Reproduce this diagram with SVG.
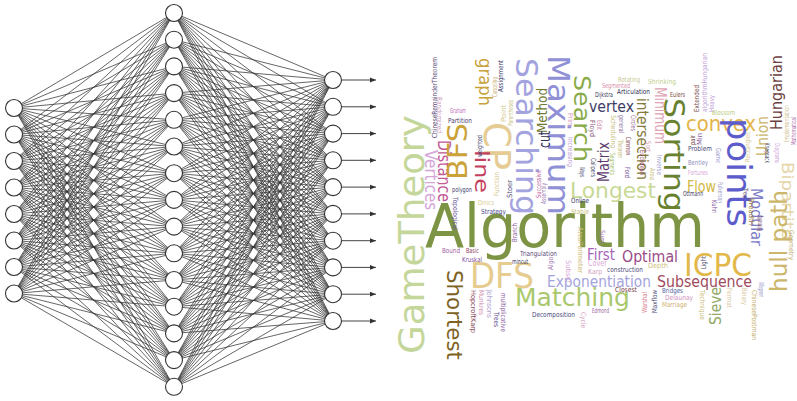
<svg xmlns="http://www.w3.org/2000/svg" width="797" height="401" viewBox="0 0 797 401">
<defs>
<marker id="ah" markerWidth="7" markerHeight="6" refX="6" refY="3" orient="auto" markerUnits="userSpaceOnUse">
<path d="M0,0.6L6,3L0,5.4Z" fill="#333"/>
</marker>
</defs>
<style>
.e{stroke:#333;stroke-width:.75;fill:none}
.o{stroke:#444;stroke-width:1;fill:none;marker-end:url(#ah)}
.n circle{fill:#fff;stroke:#333;stroke-width:1.1}
text{font-family:"DejaVu Sans","Liberation Sans",sans-serif}
.s{font-size:7px}
</style>
<rect width="797" height="401" fill="#fff"/>

<!-- dense links: input layer to hidden layer, hidden layer to output layer -->
<g id="connectors">
<path class="e" d="M14 108 174 13M14 108 174 39.7M14 108 174 66.4M14 108 174 93.1M14 108 174 119.8M14 108 174 146.5M14 108 174 173.2M14 108 174 199.9M14 108 174 226.6M14 108 174 253.3M14 108 174 280M14 108 174 306.7M14 108 174 333.4M14 108 174 360.1M14 108 174 386.8"/>
<path class="e" d="M14 134.5 174 13M14 134.5 174 39.7M14 134.5 174 66.4M14 134.5 174 93.1M14 134.5 174 119.8M14 134.5 174 146.5M14 134.5 174 173.2M14 134.5 174 199.9M14 134.5 174 226.6M14 134.5 174 253.3M14 134.5 174 280M14 134.5 174 306.7M14 134.5 174 333.4M14 134.5 174 360.1M14 134.5 174 386.8"/>
<path class="e" d="M14 161 174 13M14 161 174 39.7M14 161 174 66.4M14 161 174 93.1M14 161 174 119.8M14 161 174 146.5M14 161 174 173.2M14 161 174 199.9M14 161 174 226.6M14 161 174 253.3M14 161 174 280M14 161 174 306.7M14 161 174 333.4M14 161 174 360.1M14 161 174 386.8"/>
<path class="e" d="M14 187.5 174 13M14 187.5 174 39.7M14 187.5 174 66.4M14 187.5 174 93.1M14 187.5 174 119.8M14 187.5 174 146.5M14 187.5 174 173.2M14 187.5 174 199.9M14 187.5 174 226.6M14 187.5 174 253.3M14 187.5 174 280M14 187.5 174 306.7M14 187.5 174 333.4M14 187.5 174 360.1M14 187.5 174 386.8"/>
<path class="e" d="M14 214 174 13M14 214 174 39.7M14 214 174 66.4M14 214 174 93.1M14 214 174 119.8M14 214 174 146.5M14 214 174 173.2M14 214 174 199.9M14 214 174 226.6M14 214 174 253.3M14 214 174 280M14 214 174 306.7M14 214 174 333.4M14 214 174 360.1M14 214 174 386.8"/>
<path class="e" d="M14 240.5 174 13M14 240.5 174 39.7M14 240.5 174 66.4M14 240.5 174 93.1M14 240.5 174 119.8M14 240.5 174 146.5M14 240.5 174 173.2M14 240.5 174 199.9M14 240.5 174 226.6M14 240.5 174 253.3M14 240.5 174 280M14 240.5 174 306.7M14 240.5 174 333.4M14 240.5 174 360.1M14 240.5 174 386.8"/>
<path class="e" d="M14 267 174 13M14 267 174 39.7M14 267 174 66.4M14 267 174 93.1M14 267 174 119.8M14 267 174 146.5M14 267 174 173.2M14 267 174 199.9M14 267 174 226.6M14 267 174 253.3M14 267 174 280M14 267 174 306.7M14 267 174 333.4M14 267 174 360.1M14 267 174 386.8"/>
<path class="e" d="M14 293.5 174 13M14 293.5 174 39.7M14 293.5 174 66.4M14 293.5 174 93.1M14 293.5 174 119.8M14 293.5 174 146.5M14 293.5 174 173.2M14 293.5 174 199.9M14 293.5 174 226.6M14 293.5 174 253.3M14 293.5 174 280M14 293.5 174 306.7M14 293.5 174 333.4M14 293.5 174 360.1M14 293.5 174 386.8"/>

<path class="e" d="M333 80 174 13M333 80 174 39.7M333 80 174 66.4M333 80 174 93.1M333 80 174 119.8M333 80 174 146.5M333 80 174 173.2M333 80 174 199.9M333 80 174 226.6M333 80 174 253.3M333 80 174 280M333 80 174 306.7M333 80 174 333.4M333 80 174 360.1M333 80 174 386.8"/>
<path class="e" d="M333 106.8 174 13M333 106.8 174 39.7M333 106.8 174 66.4M333 106.8 174 93.1M333 106.8 174 119.8M333 106.8 174 146.5M333 106.8 174 173.2M333 106.8 174 199.9M333 106.8 174 226.6M333 106.8 174 253.3M333 106.8 174 280M333 106.8 174 306.7M333 106.8 174 333.4M333 106.8 174 360.1M333 106.8 174 386.8"/>
<path class="e" d="M333 133.6 174 13M333 133.6 174 39.7M333 133.6 174 66.4M333 133.6 174 93.1M333 133.6 174 119.8M333 133.6 174 146.5M333 133.6 174 173.2M333 133.6 174 199.9M333 133.6 174 226.6M333 133.6 174 253.3M333 133.6 174 280M333 133.6 174 306.7M333 133.6 174 333.4M333 133.6 174 360.1M333 133.6 174 386.8"/>
<path class="e" d="M333 160.3 174 13M333 160.3 174 39.7M333 160.3 174 66.4M333 160.3 174 93.1M333 160.3 174 119.8M333 160.3 174 146.5M333 160.3 174 173.2M333 160.3 174 199.9M333 160.3 174 226.6M333 160.3 174 253.3M333 160.3 174 280M333 160.3 174 306.7M333 160.3 174 333.4M333 160.3 174 360.1M333 160.3 174 386.8"/>
<path class="e" d="M333 187.1 174 13M333 187.1 174 39.7M333 187.1 174 66.4M333 187.1 174 93.1M333 187.1 174 119.8M333 187.1 174 146.5M333 187.1 174 173.2M333 187.1 174 199.9M333 187.1 174 226.6M333 187.1 174 253.3M333 187.1 174 280M333 187.1 174 306.7M333 187.1 174 333.4M333 187.1 174 360.1M333 187.1 174 386.8"/>
<path class="e" d="M333 213.9 174 13M333 213.9 174 39.7M333 213.9 174 66.4M333 213.9 174 93.1M333 213.9 174 119.8M333 213.9 174 146.5M333 213.9 174 173.2M333 213.9 174 199.9M333 213.9 174 226.6M333 213.9 174 253.3M333 213.9 174 280M333 213.9 174 306.7M333 213.9 174 333.4M333 213.9 174 360.1M333 213.9 174 386.8"/>
<path class="e" d="M333 240.7 174 13M333 240.7 174 39.7M333 240.7 174 66.4M333 240.7 174 93.1M333 240.7 174 119.8M333 240.7 174 146.5M333 240.7 174 173.2M333 240.7 174 199.9M333 240.7 174 226.6M333 240.7 174 253.3M333 240.7 174 280M333 240.7 174 306.7M333 240.7 174 333.4M333 240.7 174 360.1M333 240.7 174 386.8"/>
<path class="e" d="M333 267.4 174 13M333 267.4 174 39.7M333 267.4 174 66.4M333 267.4 174 93.1M333 267.4 174 119.8M333 267.4 174 146.5M333 267.4 174 173.2M333 267.4 174 199.9M333 267.4 174 226.6M333 267.4 174 253.3M333 267.4 174 280M333 267.4 174 306.7M333 267.4 174 333.4M333 267.4 174 360.1M333 267.4 174 386.8"/>
<path class="e" d="M333 294.2 174 13M333 294.2 174 39.7M333 294.2 174 66.4M333 294.2 174 93.1M333 294.2 174 119.8M333 294.2 174 146.5M333 294.2 174 173.2M333 294.2 174 199.9M333 294.2 174 226.6M333 294.2 174 253.3M333 294.2 174 280M333 294.2 174 306.7M333 294.2 174 333.4M333 294.2 174 360.1M333 294.2 174 386.8"/>
<path class="e" d="M333 321 174 13M333 321 174 39.7M333 321 174 66.4M333 321 174 93.1M333 321 174 119.8M333 321 174 146.5M333 321 174 173.2M333 321 174 199.9M333 321 174 226.6M333 321 174 253.3M333 321 174 280M333 321 174 306.7M333 321 174 333.4M333 321 174 360.1M333 321 174 386.8"/>

<!-- output arrows -->
<path class="o" d="M342 80H376"/>
<path class="o" d="M342 106.8H376"/>
<path class="o" d="M342 133.6H376"/>
<path class="o" d="M342 160.3H376"/>
<path class="o" d="M342 187.1H376"/>
<path class="o" d="M342 213.9H376"/>
<path class="o" d="M342 240.7H376"/>
<path class="o" d="M342 267.4H376"/>
<path class="o" d="M342 294.2H376"/>
<path class="o" d="M342 321H376"/>
</g>

<!-- input layer -->
<g id="in1" class="n"><circle cx="14" cy="108" r="8.5"/></g>
<g id="in2" class="n"><circle cx="14" cy="134.5" r="8.5"/></g>
<g id="in3" class="n"><circle cx="14" cy="161" r="8.5"/></g>
<g id="in4" class="n"><circle cx="14" cy="187.5" r="8.5"/></g>
<g id="in5" class="n"><circle cx="14" cy="214" r="8.5"/></g>
<g id="in6" class="n"><circle cx="14" cy="240.5" r="8.5"/></g>
<g id="in7" class="n"><circle cx="14" cy="267" r="8.5"/></g>
<g id="in8" class="n"><circle cx="14" cy="293.5" r="8.5"/></g>

<!-- hidden layer -->
<g id="h1" class="n"><circle cx="174" cy="13" r="8.5"/></g>
<g id="h2" class="n"><circle cx="174" cy="39.7" r="8.5"/></g>
<g id="h3" class="n"><circle cx="174" cy="66.4" r="8.5"/></g>
<g id="h4" class="n"><circle cx="174" cy="93.1" r="8.5"/></g>
<g id="h5" class="n"><circle cx="174" cy="119.8" r="8.5"/></g>
<g id="h6" class="n"><circle cx="174" cy="146.5" r="8.5"/></g>
<g id="h7" class="n"><circle cx="174" cy="173.2" r="8.5"/></g>
<g id="h8" class="n"><circle cx="174" cy="199.9" r="8.5"/></g>
<g id="h9" class="n"><circle cx="174" cy="226.6" r="8.5"/></g>
<g id="h10" class="n"><circle cx="174" cy="253.3" r="8.5"/></g>
<g id="h11" class="n"><circle cx="174" cy="280" r="8.5"/></g>
<g id="h12" class="n"><circle cx="174" cy="306.7" r="8.5"/></g>
<g id="h13" class="n"><circle cx="174" cy="333.4" r="8.5"/></g>
<g id="h14" class="n"><circle cx="174" cy="360.1" r="8.5"/></g>
<g id="h15" class="n"><circle cx="174" cy="386.8" r="8.5"/></g>

<!-- output layer -->
<g id="out1" class="n"><circle cx="333" cy="80" r="8.5"/></g>
<g id="out2" class="n"><circle cx="333" cy="106.8" r="8.5"/></g>
<g id="out3" class="n"><circle cx="333" cy="133.6" r="8.5"/></g>
<g id="out4" class="n"><circle cx="333" cy="160.3" r="8.5"/></g>
<g id="out5" class="n"><circle cx="333" cy="187.1" r="8.5"/></g>
<g id="out6" class="n"><circle cx="333" cy="213.9" r="8.5"/></g>
<g id="out7" class="n"><circle cx="333" cy="240.7" r="8.5"/></g>
<g id="out8" class="n"><circle cx="333" cy="267.4" r="8.5"/></g>
<g id="out9" class="n"><circle cx="333" cy="294.2" r="8.5"/></g>
<g id="out10" class="n"><circle cx="333" cy="321" r="8.5"/></g>

<!-- word cloud -->
<g id="wordcloud">
<!-- large horizontal words -->
<text x="425" y="247" font-size="60" textLength="280" lengthAdjust="spacingAndGlyphs" fill="#7c9443">Algorithm</text>
<text x="470" y="288" font-size="36" textLength="64" lengthAdjust="spacingAndGlyphs" fill="#e6cc8f">DFS</text>
<text x="515" y="306" font-size="25" textLength="115" lengthAdjust="spacingAndGlyphs" fill="#a9c86d">Matching</text>
<text x="547" y="287" font-size="15" textLength="104" lengthAdjust="spacingAndGlyphs" fill="#a4a4dc">Exponentiation</text>
<text x="657" y="287" font-size="15" textLength="95" lengthAdjust="spacingAndGlyphs" fill="#a04b5c">Subsequence</text>
<text x="684" y="276" font-size="32" textLength="68" lengthAdjust="spacingAndGlyphs" fill="#e3b84a">ICPC</text>
<text x="622" y="262" font-size="16" textLength="56" lengthAdjust="spacingAndGlyphs" fill="#9a4c86">Optimal</text>
<text x="587" y="260" font-size="15" textLength="28" lengthAdjust="spacingAndGlyphs" fill="#a865b8">First</text>
<text x="570" y="198" font-size="22" textLength="86" lengthAdjust="spacingAndGlyphs" fill="#c8d994">Longest</text>
<text x="589" y="112" font-size="16" textLength="45" lengthAdjust="spacingAndGlyphs" fill="#3c3c68">vertex</text>
<text x="686" y="131" font-size="21" textLength="70" lengthAdjust="spacingAndGlyphs" fill="#e3b44a">convex</text>
<text x="687" y="192" font-size="15" textLength="29" lengthAdjust="spacingAndGlyphs" fill="#d3b843">Flow</text>

<!-- large words reading downward -->
<text transform="translate(516 58) rotate(90)" font-size="31" textLength="157" lengthAdjust="spacingAndGlyphs" fill="#a3a3e0">Searching</text>
<text transform="translate(548 55) rotate(90)" font-size="31" textLength="160" lengthAdjust="spacingAndGlyphs" fill="#9090d6">Maximum</text>
<text transform="translate(574 75) rotate(90)" font-size="23" textLength="87" lengthAdjust="spacingAndGlyphs" fill="#8aab4b">Search</text>
<text transform="translate(664 98) rotate(90)" font-size="29" textLength="114" lengthAdjust="spacingAndGlyphs" fill="#67812e">Sorting</text>
<text transform="translate(727 118) rotate(90)" font-size="34" textLength="109" lengthAdjust="spacingAndGlyphs" fill="#5c5ccc">points</text>
<text transform="translate(484 122) rotate(90)" font-size="38" textLength="48" lengthAdjust="spacingAndGlyphs" fill="#e5cc95">CP</text>
<text transform="translate(479 58) rotate(90)" font-size="18" textLength="48" lengthAdjust="spacingAndGlyphs" fill="#c8a33c">graph</text>
<text transform="translate(475 150) rotate(90)" font-size="19" textLength="43" lengthAdjust="spacingAndGlyphs" fill="#c4405c">line</text>
<text transform="translate(438 140) rotate(90)" font-size="17" textLength="62" lengthAdjust="spacingAndGlyphs" fill="#c35a95">Distance</text>
<text transform="translate(425 150) rotate(90)" font-size="17" textLength="60" lengthAdjust="spacingAndGlyphs" fill="#d5a5d8">Vertices</text>
<text transform="translate(447 270) rotate(90)" font-size="22" textLength="90" lengthAdjust="spacingAndGlyphs" fill="#7d6224">Shortest</text>
<text transform="translate(751 188) rotate(90)" font-size="15" textLength="58" lengthAdjust="spacingAndGlyphs" fill="#7b7bc6">Modular</text>
<text transform="translate(655 87) rotate(90)" font-size="15" textLength="57" lengthAdjust="spacingAndGlyphs" fill="#e0a5b5">Minimum</text>
<text transform="translate(637 98) rotate(90)" font-size="16" textLength="82" lengthAdjust="spacingAndGlyphs" fill="#857a3c">intersection</text>
<text transform="translate(782 162) rotate(90)" font-size="16" textLength="78" lengthAdjust="spacingAndGlyphs" fill="#e5d5a8">Bipartite</text>

<!-- large words reading upward -->
<text transform="translate(424 354) rotate(-90)" font-size="36" textLength="239" lengthAdjust="spacingAndGlyphs" fill="#c4d69a">GameTheory</text>
<text transform="translate(467 180) rotate(-90)" font-size="27" textLength="57" lengthAdjust="spacingAndGlyphs" fill="#caa238">BFS</text>
<text transform="translate(782 130) rotate(-90)" font-size="16" textLength="75" lengthAdjust="spacingAndGlyphs" fill="#6d4040">Hungarian</text>
<text transform="translate(768 156) rotate(-90)" font-size="16" textLength="40" lengthAdjust="spacingAndGlyphs" fill="#cbb66a">Union</text>
<text transform="translate(787 292) rotate(-90)" font-size="23" textLength="102" lengthAdjust="spacingAndGlyphs" fill="#cbb66a">hull path</text>
<text transform="translate(721 325) rotate(-90)" font-size="15" textLength="38" lengthAdjust="spacingAndGlyphs" fill="#8fa866">Sieve</text>
<text transform="translate(609 182) rotate(-90)" font-size="15" textLength="40" lengthAdjust="spacingAndGlyphs" fill="#5c3c6e">Matrix</text>
<text transform="translate(547 133) rotate(-90)" font-size="14" textLength="45" lengthAdjust="spacingAndGlyphs" fill="#707a30">Method</text>
<text transform="translate(550 148) rotate(-90)" font-size="15" textLength="17" lengthAdjust="spacingAndGlyphs" fill="#2e2e58">cut</text>

<!-- small horizontal words -->
<g class="s">
<text x="450" y="113" textLength="16" lengthAdjust="spacingAndGlyphs" fill="#c070c0">Graham</text>
<text x="448" y="123" textLength="24" lengthAdjust="spacingAndGlyphs" fill="#4a3a6a">Partition</text>
<text x="452" y="192" textLength="20" lengthAdjust="spacingAndGlyphs" fill="#3a3a6a">polygon</text>
<text x="481" y="214" textLength="25" lengthAdjust="spacingAndGlyphs" fill="#4a4a8a">Strategy</text>
<text x="478" y="205" textLength="16" lengthAdjust="spacingAndGlyphs" fill="#d8cc90">Dinics</text>
<text x="442" y="253" textLength="18" lengthAdjust="spacingAndGlyphs" fill="#a060a0">Bound</text>
<text x="466" y="253" textLength="13" lengthAdjust="spacingAndGlyphs" fill="#8a3a5a">Basic</text>
<text x="462" y="262" textLength="20" lengthAdjust="spacingAndGlyphs" fill="#8050a0">Kruskal</text>
<text x="520" y="256" textLength="37" lengthAdjust="spacingAndGlyphs" fill="#5a4a7a">Triangulation</text>
<text x="512" y="264" textLength="16" lengthAdjust="spacingAndGlyphs" fill="#3a3a6a">mincut</text>
<text x="571" y="203" textLength="18" lengthAdjust="spacingAndGlyphs" fill="#3a3a6a">Online</text>
<text x="571" y="214" textLength="18" lengthAdjust="spacingAndGlyphs" fill="#c8c080">Stable</text>
<text x="588" y="266" font-size="9" textLength="19" lengthAdjust="spacingAndGlyphs" fill="#d8a8d8">Cover</text>
<text x="588" y="274" textLength="14" lengthAdjust="spacingAndGlyphs" fill="#d0a0c0">Karp</text>
<text x="607" y="272" textLength="36" lengthAdjust="spacingAndGlyphs" fill="#4a4a7a">construction</text>
<text x="648" y="268" textLength="20" lengthAdjust="spacingAndGlyphs" fill="#d0c080">Depth</text>
<text x="615" y="292" textLength="22" lengthAdjust="spacingAndGlyphs" fill="#7a3a4a">Closest</text>
<text x="532" y="317" textLength="43" lengthAdjust="spacingAndGlyphs" fill="#4a4a7a">Decomposition</text>
<text x="592" y="313" textLength="17" lengthAdjust="spacingAndGlyphs" fill="#9a6aa0">Edmond</text>
<text x="618" y="82" textLength="22" lengthAdjust="spacingAndGlyphs" fill="#c8c890">Rotating</text>
<text x="602" y="88" textLength="28" lengthAdjust="spacingAndGlyphs" fill="#d890a8">Segmented</text>
<text x="617" y="94" textLength="33" lengthAdjust="spacingAndGlyphs" fill="#2a2a4a">Articulation</text>
<text x="595" y="97" textLength="18" lengthAdjust="spacingAndGlyphs" fill="#3a3a5a">Dijkstra</text>
<text x="648" y="84" textLength="28" lengthAdjust="spacingAndGlyphs" fill="#c0d090">Shrinking</text>
<text x="670" y="97" textLength="15" lengthAdjust="spacingAndGlyphs" fill="#7a4a3a">Eulers</text>
<text x="712" y="115" textLength="23" lengthAdjust="spacingAndGlyphs" fill="#b8cc80">Blossom</text>
<text x="688" y="151" textLength="24" lengthAdjust="spacingAndGlyphs" fill="#4a4a7a">Problem</text>
<text x="688" y="165" textLength="20" lengthAdjust="spacingAndGlyphs" fill="#9090c0">Bentley</text>
<text x="688" y="175" textLength="20" lengthAdjust="spacingAndGlyphs" fill="#d8a8d8">Fortunes</text>
<text x="683" y="196" textLength="20" lengthAdjust="spacingAndGlyphs" fill="#3a3a5a">Ottmann</text>
<text x="662" y="293" textLength="21" lengthAdjust="spacingAndGlyphs" fill="#5060a0">Bridges</text>
<text x="665" y="300" textLength="28" lengthAdjust="spacingAndGlyphs" fill="#d090c0">Delaunay</text>
<text x="662" y="307" textLength="25" lengthAdjust="spacingAndGlyphs" fill="#d0b070">Marriage</text>
</g>

<!-- small words reading downward -->
<g class="s">
<text transform="translate(437 97) rotate(90)" textLength="36" lengthAdjust="spacingAndGlyphs" fill="#d0a0c0">Randomized</text>
<text transform="translate(453 197) rotate(90)" textLength="33" lengthAdjust="spacingAndGlyphs" fill="#6a5a9a">Topological</text>
<text transform="translate(471 290) rotate(90)" textLength="43" lengthAdjust="spacingAndGlyphs" fill="#8a4a5a">HopcroftKarp</text>
<text transform="translate(479 290) rotate(90)" textLength="25" lengthAdjust="spacingAndGlyphs" fill="#d090b0">Munkres</text>
<text transform="translate(487 290) rotate(90)" textLength="28" lengthAdjust="spacingAndGlyphs" fill="#b0a0d0">Johnsons</text>
<text transform="translate(494 312) rotate(90)" textLength="15" lengthAdjust="spacingAndGlyphs" fill="#5a4a8a">Trees</text>
<text transform="translate(501 293) rotate(90)" textLength="39" lengthAdjust="spacingAndGlyphs" fill="#8a5aa0">multiplicative</text>
<text transform="translate(566 260) rotate(90)" textLength="23" lengthAdjust="spacingAndGlyphs" fill="#d8a8d8">Subset</text>
<text transform="translate(578 227) rotate(90)" textLength="46" lengthAdjust="spacingAndGlyphs" fill="#d0c080">AreaPerimeter</text>
<text transform="translate(600 230) rotate(90)" textLength="13" lengthAdjust="spacingAndGlyphs" fill="#a070b0">Sum</text>
<text transform="translate(581 312) rotate(90)" textLength="16" lengthAdjust="spacingAndGlyphs" fill="#d8a0c0">Cycle</text>
<text transform="translate(568 113) rotate(90)" textLength="14" lengthAdjust="spacingAndGlyphs" fill="#d8a0c0">Prim</text>
<text transform="translate(590 120) rotate(90)" textLength="17" lengthAdjust="spacingAndGlyphs" fill="#8a5a7a">Floyd</text>
<text transform="translate(597 120) rotate(90)" textLength="10" lengthAdjust="spacingAndGlyphs" fill="#d090b0">Edit</text>
<text transform="translate(611 115) rotate(90)" textLength="33" lengthAdjust="spacingAndGlyphs" fill="#c8c080">Scheduling</text>
<text transform="translate(619 115) rotate(90)" textLength="18" lengthAdjust="spacingAndGlyphs" fill="#8a6aa0">general</text>
<text transform="translate(618 140) rotate(90)" textLength="18" lengthAdjust="spacingAndGlyphs" fill="#c8c080">Theorem</text>
<text transform="translate(631 115) rotate(90)" textLength="16" lengthAdjust="spacingAndGlyphs" fill="#9a6aa0">Circles</text>
<text transform="translate(626 137) rotate(90)" textLength="18" lengthAdjust="spacingAndGlyphs" fill="#8a4a5a">Common</text>
<text transform="translate(640 150) rotate(90)" textLength="25" lengthAdjust="spacingAndGlyphs" fill="#8a4a5a">Euclidean</text>
<text transform="translate(646 141) rotate(90)" textLength="11" lengthAdjust="spacingAndGlyphs" fill="#d8a0b0">Sort</text>
<text transform="translate(657 155) rotate(90)" textLength="20" lengthAdjust="spacingAndGlyphs" fill="#a0a0d0">Inverse</text>
<text transform="translate(650 168) rotate(90)" textLength="12" lengthAdjust="spacingAndGlyphs" fill="#c8c080">Area</text>
<text transform="translate(625 167) rotate(90)" textLength="11" lengthAdjust="spacingAndGlyphs" fill="#7a5aa0">Ford</text>
<text transform="translate(568 137) rotate(90)" textLength="30" lengthAdjust="spacingAndGlyphs" fill="#c0a0d8">Increasing</text>
<text transform="translate(591 158) rotate(90)" textLength="19" lengthAdjust="spacingAndGlyphs" fill="#4a4a6a">Calipers</text>
<text transform="translate(580 167) rotate(90)" textLength="10" lengthAdjust="spacingAndGlyphs" fill="#3a3a6a">Ways</text>
<text transform="translate(610 153) rotate(90)" textLength="22" lengthAdjust="spacingAndGlyphs" fill="#a8c070">Segments</text>
<text transform="translate(716 148) rotate(90)" textLength="15" lengthAdjust="spacingAndGlyphs" fill="#a0a0d0">Game</text>
<text transform="translate(718 182) rotate(90)" textLength="21" lengthAdjust="spacingAndGlyphs" fill="#a0a0d0">Fulkerson</text>
<text transform="translate(765 143) rotate(90)" textLength="20" lengthAdjust="spacingAndGlyphs" fill="#4a4a6a">Knapsack</text>
<text transform="translate(775 143) rotate(90)" textLength="20" lengthAdjust="spacingAndGlyphs" fill="#d0a0d8">Diagrams</text>
<text transform="translate(712 200) rotate(90)" textLength="13" lengthAdjust="spacingAndGlyphs" fill="#8a5aa0">Kuhn</text>
<text transform="translate(743 188) rotate(90)" textLength="10" lengthAdjust="spacingAndGlyphs" fill="#5a4a7a">Tree</text>
<text transform="translate(749 198) rotate(90)" textLength="27" lengthAdjust="spacingAndGlyphs" fill="#a08040">Breadth</text>
<text transform="translate(700 290) rotate(90)" textLength="30" lengthAdjust="spacingAndGlyphs" fill="#d0c080">Technique</text>
<text transform="translate(727 288) rotate(90)" textLength="20" lengthAdjust="spacingAndGlyphs" fill="#d8c8a0">Fermat</text>
<text transform="translate(742 288) rotate(90)" textLength="17" lengthAdjust="spacingAndGlyphs" fill="#d8c8a0">Binary</text>
<text transform="translate(752 290) rotate(90)" textLength="50" lengthAdjust="spacingAndGlyphs" fill="#c8b070">ChinesePostman</text>
<text transform="translate(759 282) rotate(90)" textLength="15" lengthAdjust="spacingAndGlyphs" fill="#a0a0d0">Wagner</text>
<text transform="translate(789 230) rotate(90)" textLength="30" lengthAdjust="spacingAndGlyphs" fill="#c8b070">Geometry</text>
</g>

<!-- small words reading upward -->
<g class="s">
<text transform="translate(437 138) rotate(-90)" textLength="81" lengthAdjust="spacingAndGlyphs" fill="#5a4a7a">ChineseRemainderTheorem</text>
<text transform="translate(482 157) rotate(-90)" textLength="22" lengthAdjust="spacingAndGlyphs" fill="#3a3a6a">weighted</text>
<text transform="translate(503 92) rotate(-90)" textLength="32" lengthAdjust="spacingAndGlyphs" fill="#3a3a6a">Assignment</text>
<text transform="translate(497 97) rotate(-90)" textLength="20" lengthAdjust="spacingAndGlyphs" fill="#c8b070">Canceling</text>
<text transform="translate(506 122) rotate(-90)" textLength="17" lengthAdjust="spacingAndGlyphs" fill="#d0c080">Point</text>
<text transform="translate(513 126) rotate(-90)" textLength="26" lengthAdjust="spacingAndGlyphs" fill="#c8c080">Parentheses</text>
<text transform="translate(499 196) rotate(-90)" textLength="24" lengthAdjust="spacingAndGlyphs" fill="#d8c890">Function</text>
<text transform="translate(512 198) rotate(-90)" textLength="18" lengthAdjust="spacingAndGlyphs" fill="#4a4a7a">Stoer</text>
<text transform="translate(541 198) rotate(-90)" textLength="28" lengthAdjust="spacingAndGlyphs" fill="#c060a0">Successive</text>
<text transform="translate(517 242) rotate(-90)" textLength="19" lengthAdjust="spacingAndGlyphs" fill="#8a5aa0">Branch</text>
<text transform="translate(553 270) rotate(-90)" textLength="13" lengthAdjust="spacingAndGlyphs" fill="#a070b0">Algo</text>
<text transform="translate(546 204) rotate(-90)" textLength="21" lengthAdjust="spacingAndGlyphs" fill="#a080b0">Assembly</text>
<text transform="translate(699 112) rotate(-90)" textLength="27" lengthAdjust="spacingAndGlyphs" fill="#7a4a4a">Extended</text>
<text transform="translate(707 112) rotate(-90)" textLength="59" lengthAdjust="spacingAndGlyphs" fill="#c0a0d8">algorithmHungarian</text>
<text transform="translate(714 112) rotate(-90)" textLength="17" lengthAdjust="spacingAndGlyphs" fill="#c0a0d8">Heavy</text>
<text transform="translate(695 145) rotate(-90)" textLength="10" lengthAdjust="spacingAndGlyphs" fill="#7a4a4a">pair</text>
<text transform="translate(702 145) rotate(-90)" textLength="12" lengthAdjust="spacingAndGlyphs" fill="#8a5aa0">Min</text>
<text transform="translate(750 162) rotate(-90)" textLength="30" lengthAdjust="spacingAndGlyphs" fill="#d8c890">Rectangles</text>
<text transform="translate(789 142) rotate(-90)" textLength="37" lengthAdjust="spacingAndGlyphs" fill="#d0c090">Implementation</text>
<text transform="translate(796 145) rotate(-90)" textLength="28" lengthAdjust="spacingAndGlyphs" fill="#b070b0">Mathematical</text>
<text transform="translate(762 231) rotate(-90)" textLength="16" lengthAdjust="spacingAndGlyphs" fill="#8a5a7a">Primality</text>
<text transform="translate(706 269) rotate(-90)" textLength="13" lengthAdjust="spacingAndGlyphs" fill="#4a4a6a">Light</text>
<text transform="translate(647 313) rotate(-90)" textLength="21" lengthAdjust="spacingAndGlyphs" fill="#d88090">Warshal</text>
<text transform="translate(657 313) rotate(-90)" textLength="23" lengthAdjust="spacingAndGlyphs" fill="#4a4a7a">Maxflow</text>
</g>
</g>
</svg>
